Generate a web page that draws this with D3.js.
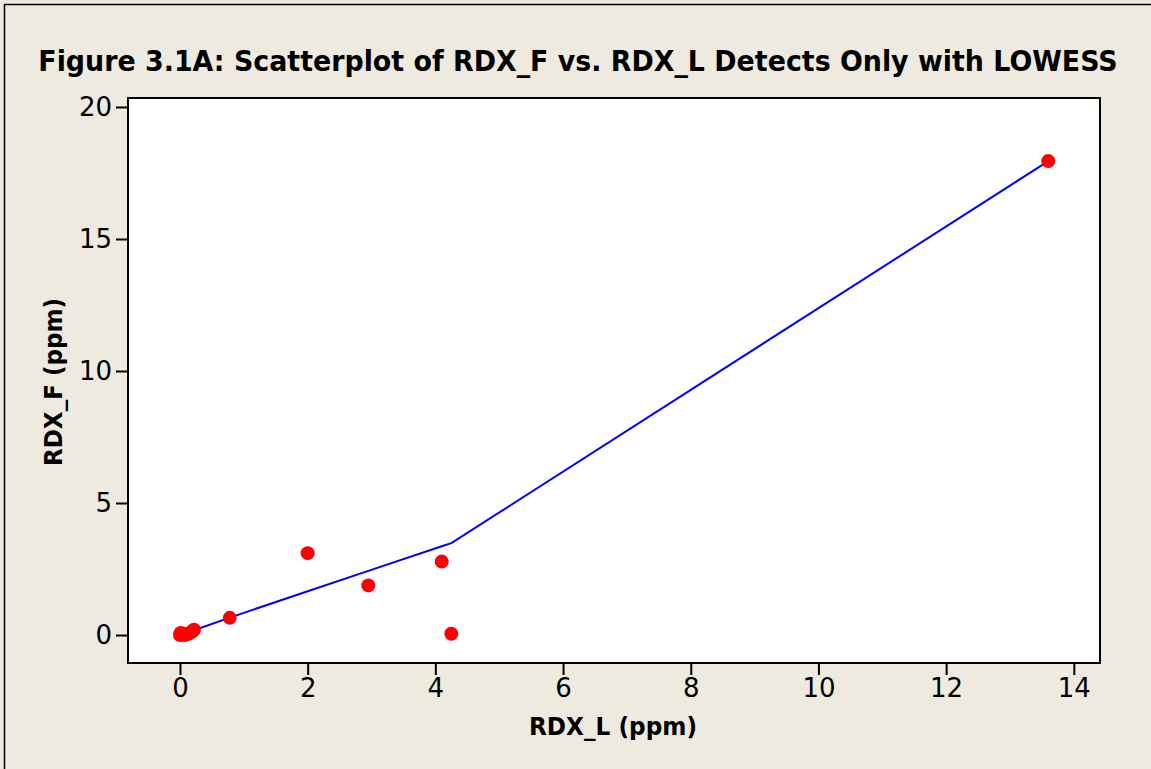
<!DOCTYPE html>
<html><head><meta charset="utf-8">
<script src="https://cdn.jsdelivr.net/npm/d3@7"></script>
<style>
html,body{margin:0;padding:0;background:#EEEAE0;}
svg{display:block;}
</style></head>
<body>
<svg id="chart" width="1151" height="769"></svg>
<script>
const titleText = "Figure 3.1A: Scatterplot of RDX_F vs. RDX_L Detects Only with LOWESS";
const xLabel = "RDX_L (ppm)";
const yLabel = "RDX_F (ppm)";
const xTicks = [0, 2, 4, 6, 8, 10, 12, 14];
const yTicks = [0, 5, 10, 15, 20];
// observed detects
const rdxL = [0.00, 0.01, 0.03, 0.05, 0.08, 0.12, 0.16, 0.20, 0.22, 0.78, 2.00, 2.95, 4.10, 4.25, 13.60];
const rdxF = [0.00, 0.08, 0.02, 0.05, 0.00, 0.04, 0.08, 0.15, 0.20, 0.65, 3.10, 1.88, 2.78, 0.05, 17.95];
// LOWESS fitted curve
const lowessX = [0.00, 0.10, 0.22, 0.78, 2.00, 2.95, 4.10, 4.25, 13.60];
const lowessY = [0.00, 0.08, 0.18, 0.66, 1.66, 2.43, 3.36, 3.48, 17.95];

const svg = d3.select("#chart");
const W = 1151, H = 769;
const plot = {left: 128, top: 98, right: 1100, bottom: 663};

svg.append("rect").attr("x", 0).attr("y", 0).attr("width", W).attr("height", H).attr("fill", "#EEEAE0");
svg.append("path").attr("d", `M4.5,${H} L4.5,4.5 L${W},4.5`).attr("fill", "none").attr("stroke", "#000").attr("stroke-width", 1.5);

const x = d3.scaleLinear().domain([-0.814, 14.41]).range([plot.left, plot.right]);
const y = d3.scaleLinear().domain([-1.06, 20.34]).range([plot.bottom, plot.top]);

svg.append("rect").attr("x", plot.left).attr("y", plot.top)
  .attr("width", plot.right - plot.left).attr("height", plot.bottom - plot.top)
  .attr("fill", "#fff").attr("stroke", "#000").attr("stroke-width", 2);

const font = "Tahoma, 'DejaVu Sans', Verdana, sans-serif";

const xAxis = svg.append("g").attr("transform", `translate(0,${plot.bottom + 1})`)
  .call(d3.axisBottom(x).tickValues(xTicks).tickSize(11).tickPadding(4).tickFormat(d3.format("d")));
xAxis.select(".domain").remove();
xAxis.selectAll("line").attr("stroke", "#000").attr("stroke-width", 2);
xAxis.selectAll("text").attr("font-family", font).attr("font-size", 26).attr("fill", "#000");

const yAxis = svg.append("g").attr("transform", `translate(${plot.left - 1},0)`)
  .call(d3.axisLeft(y).tickValues(yTicks).tickSize(11).tickPadding(4).tickFormat(d3.format("d")));
yAxis.select(".domain").remove();
yAxis.selectAll("line").attr("stroke", "#000").attr("stroke-width", 2);
yAxis.selectAll("text").attr("font-family", font).attr("font-size", 26).attr("fill", "#000");

const line = d3.line().x((d, i) => x(lowessX[i])).y((d, i) => y(lowessY[i]));
svg.append("path").datum(lowessX).attr("d", line).attr("fill", "none")
  .attr("stroke", "#0000FF").attr("stroke-width", 2);

svg.append("g").selectAll("circle").data(rdxL).join("circle")
  .attr("cx", d => x(d)).attr("cy", (d, i) => y(rdxF[i])).attr("r", 7)
  .attr("fill", "#FF0000");

// title: fit to reference width
const title = svg.append("text").attr("x", 578).attr("y", 71).attr("text-anchor", "middle")
  .attr("font-family", font).attr("font-weight", "bold").attr("font-size", 29)
  .attr("fill", "#000").text(titleText);
const natural = title.node().getComputedTextLength();
const sx = Math.min(1, 1080 / natural);
title.attr("x", 0).attr("transform", `translate(578,0) scale(${sx},1)`);

svg.append("text").attr("x", 613).attr("y", 735).attr("text-anchor", "middle")
  .attr("font-family", font).attr("font-weight", "bold").attr("font-size", 24)
  .attr("textLength", 168).attr("lengthAdjust", "spacingAndGlyphs")
  .attr("fill", "#000").text(xLabel);

svg.append("text").attr("transform", "translate(62,382) rotate(-90)").attr("text-anchor", "middle")
  .attr("font-family", font).attr("font-weight", "bold").attr("font-size", 24)
  .attr("textLength", 168).attr("lengthAdjust", "spacingAndGlyphs")
  .attr("fill", "#000").text(yLabel);
</script>
</body></html>
